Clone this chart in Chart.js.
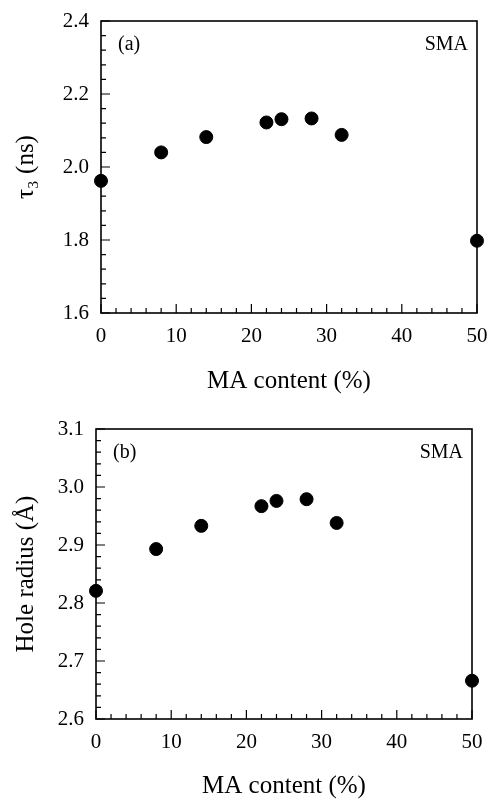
<!DOCTYPE html>
<html>
<head>
<meta charset="utf-8">
<script src="https://cdn.jsdelivr.net/npm/chart.js@4.4.1/dist/chart.umd.min.js"></script>
<style>
  body { margin: 0; background: #fff; }
  .box { position: absolute; left: 0; width: 488px; height: 400px; }
</style>
</head>
<body>
<div class="box" style="top:0"><canvas id="chartA"></canvas></div>
<div class="box" style="top:400px"><canvas id="chartB"></canvas></div>
<script>
// data
var maContent = [0, 8, 14, 22, 24, 28, 32, 50];
var tau3 = [1.962, 2.040, 2.082, 2.122, 2.131, 2.133, 2.088, 1.798];
var holeRadius = [2.821, 2.893, 2.933, 2.967, 2.976, 2.979, 2.938, 2.666];
var xTickLabels = ['0', '10', '20', '30', '40', '50'];

var serif = 'Liberation Serif';

// box around plot + inward ticks (major/minor), text tags
var framePlugin = {
    id: 'frame',
    afterDraw: function(chart, args, opts) {
        var ctx = chart.ctx, a = chart.chartArea;
        var xs = chart.scales.x, ys = chart.scales.y;
        ctx.save();
        ctx.strokeStyle = '#000';
        ctx.lineWidth = 1.6;
        ctx.strokeRect(a.left, a.top, a.right - a.left, a.bottom - a.top);
        ctx.lineWidth = 1.2;
        ctx.beginPath();
        for (var v = xs.min; v <= xs.max + 1e-9; v += opts.xMinor) {
            var px = xs.getPixelForValue(v);
            var major = Math.abs(v / opts.xMajor - Math.round(v / opts.xMajor)) < 1e-6;
            ctx.moveTo(px, a.bottom);
            ctx.lineTo(px, a.bottom - (major ? 9 : 5));
        }
        for (var i = 0; ys.min + i * opts.yMinor <= ys.max + 1e-9; i++) {
            var val = ys.min + i * opts.yMinor;
            var py = ys.getPixelForValue(val);
            var maj = i % opts.yEvery === 0;
            ctx.moveTo(a.left, py);
            ctx.lineTo(a.left + (maj ? 9 : 5), py);
        }
        ctx.stroke();
        ctx.fillStyle = '#000';
        ctx.font = '20px ' + serif;
        ctx.textBaseline = 'middle';
        ctx.textAlign = 'left';
        ctx.fillText(opts.tag, a.left + 17, a.top + 24);
        ctx.textAlign = 'right';
        ctx.fillText('SMA', a.right - 9, a.top + 24);
        ctx.restore();
    }
};

function makeChart(id, values, yMin, yMax, yStep, yMinor, yEvery, yTitle, tag, pad, axisW, axisH, titleY) {
    return new Chart(document.getElementById(id).getContext('2d'), {
        type: 'scatter',
        data: {
            datasets: [{
                data: maContent.map(function(x, i) { return { x: x, y: values[i] }; }),
                backgroundColor: '#000',
                borderColor: '#000',
                pointRadius: 6.5,
                pointHoverRadius: 6.5,
                clip: false
            }]
        },
        options: {
            responsive: true,
            maintainAspectRatio: false,
            animation: false,
            events: [],
            layout: { padding: pad },
            plugins: {
                legend: { display: false },
                tooltip: { enabled: false },
                frame: { xMinor: 2, xMajor: 10, yMinor: yMinor, yEvery: yEvery, tag: tag }
            },
            scales: {
                x: {
                    type: 'linear',
                    min: 0,
                    max: 50,
                    border: { display: false },
                    grid: { display: false, drawTicks: false },
                    ticks: {
                        stepSize: 10,
                        padding: 11,
                        color: '#000',
                        font: { family: serif, size: 21 },
                        maxRotation: 0,
                        callback: function(v, i) { return xTickLabels[i]; }
                    },
                    title: {
                        display: true,
                        text: 'MA content (%)',
                        color: '#000',
                        font: { family: serif, size: 25, lineHeight: 1 },
                        padding: { top: 0, bottom: titleY }
                    },
                    afterFit: function(s) {
                        s.height = axisH;
                        s.paddingLeft = 0;
                        s.paddingRight = 0;
                    }
                },
                y: {
                    min: yMin,
                    max: yMax,
                    border: { display: false },
                    grid: { display: false, drawTicks: false },
                    ticks: {
                        stepSize: yStep,
                        padding: 12,
                        color: '#000',
                        font: { family: serif, size: 21 },
                        callback: function(v) { return v.toFixed(1); }
                    },
                    title: {
                        display: true,
                        text: yTitle,
                        color: '#000',
                        font: { family: serif, size: 25, lineHeight: 1 },
                        padding: { top: 14, bottom: 0 }
                    },
                    afterFit: function(s) {
                        s.width = axisW;
                        s.paddingTop = 0;
                        s.paddingBottom = 0;
                    }
                }
            }
        },
        plugins: [framePlugin]
    });
}

makeChart('chartA', tau3, 1.6, 2.4, 0.2, 0.04, 5, 'τ₃ (ns)', '(a)',
    { top: 21, right: 11, left: 0, bottom: 0 }, 101, 87, 6);
makeChart('chartB', holeRadius, 2.6, 3.1, 0.1, 0.02, 5, 'Hole radius (Å)', '(b)',
    { top: 29, right: 16, left: 0, bottom: 0 }, 96, 81, 1);
</script>
</body>
</html>
